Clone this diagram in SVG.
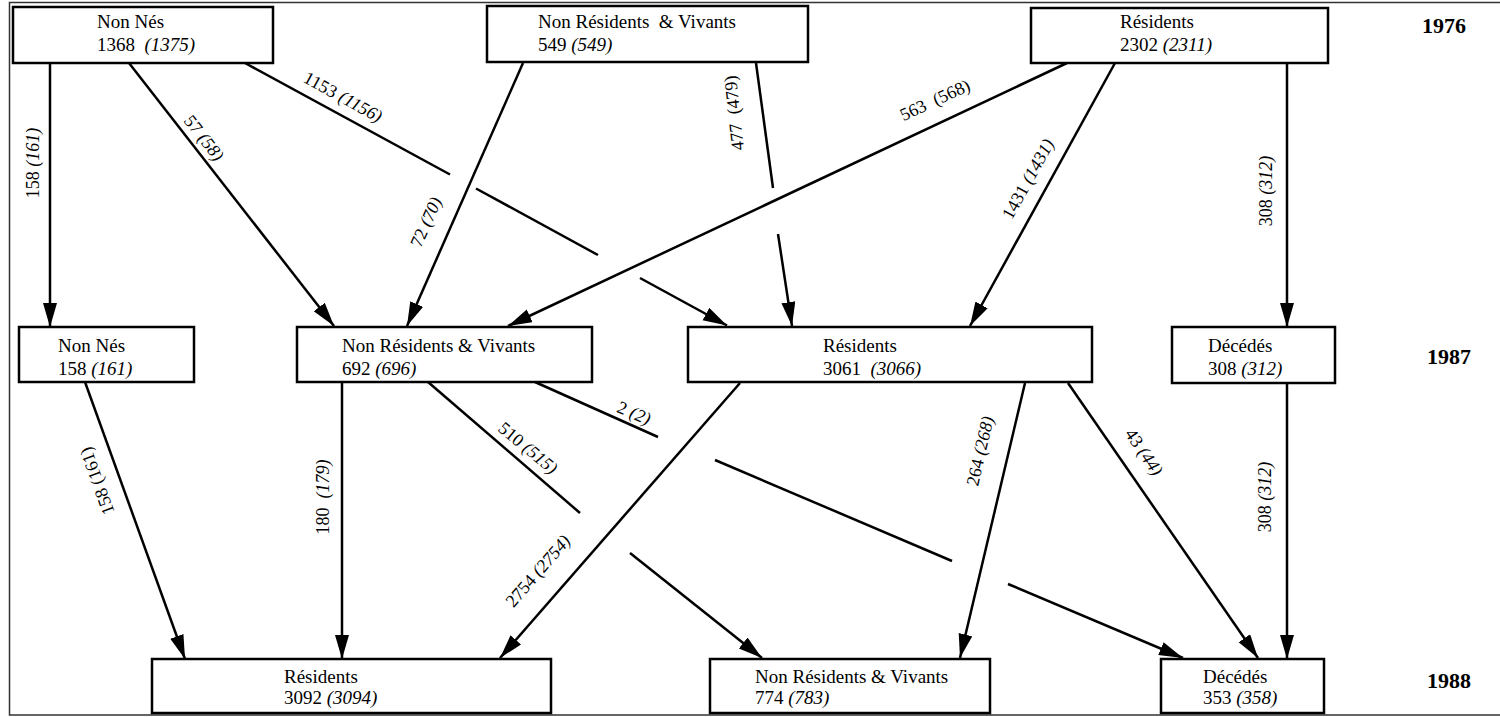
<svg xmlns="http://www.w3.org/2000/svg" width="1500" height="717" viewBox="0 0 1500 717">
  <style>
    .box { fill: #ffffff; stroke: #000000; stroke-width: 2.5; }
    .nt { font-family: "Liberation Serif", "Times New Roman", serif; font-size: 19px; fill: #000000; white-space: pre; }
    .it { font-style: italic; }
    .yr { font-family: "Liberation Serif", "Times New Roman", serif; font-size: 22px; font-weight: bold; fill: #000000; text-anchor: middle; }
    .edge { fill: none; stroke: #000000; stroke-width: 2.5; }
    .lbl { font-family: "Liberation Serif", "Times New Roman", serif; font-size: 18px; fill: #000000; text-anchor: middle; dominant-baseline: central; white-space: pre; }
    .frame { fill: none; stroke: #333333; stroke-width: 1.5; }
  </style>
  <defs>
    <marker id="arrow" markerUnits="userSpaceOnUse" markerWidth="26" markerHeight="16" refX="24" refY="7" orient="auto">
      <path d="M0,0 L24,7 L0,14 Z" fill="#000000"/>
    </marker>
  </defs>

  <rect width="1500" height="717" fill="#ffffff"/>

  <!-- outer frame -->
  <g id="frame">
    <path class="frame" d="M1500,2.5 H9.5 V715 H1500"/>
  </g>

  <!-- year labels -->
  <g id="years">
    <text class="yr" x="1444" y="33">1976</text>
    <text class="yr" x="1449" y="364">1987</text>
    <text class="yr" x="1449" y="688">1988</text>
  </g>

  <!-- connectors -->
  <g id="connectors">
    <!-- 1976 -> 1987 -->
    <line class="edge" x1="50" y1="63" x2="50" y2="327" marker-end="url(#arrow)"/>
    <line class="edge" x1="129" y1="63" x2="334" y2="326" marker-end="url(#arrow)"/>
    <line class="edge" x1="245" y1="63" x2="450" y2="174.5"/>
    <line class="edge" x1="476" y1="188.5" x2="598" y2="255"/>
    <line class="edge" x1="640" y1="278" x2="727" y2="325.5" marker-end="url(#arrow)"/>
    <line class="edge" x1="523" y1="63" x2="407" y2="326" marker-end="url(#arrow)"/>
    <line class="edge" x1="756" y1="63" x2="773" y2="188"/>
    <line class="edge" x1="778" y1="234" x2="792" y2="326" marker-end="url(#arrow)"/>
    <line class="edge" x1="1067" y1="63" x2="508" y2="326" marker-end="url(#arrow)"/>
    <line class="edge" x1="1115" y1="63" x2="970" y2="326" marker-end="url(#arrow)"/>
    <line class="edge" x1="1287" y1="63" x2="1287" y2="327" marker-end="url(#arrow)"/>

    <!-- 1987 -> 1988 -->
    <line class="edge" x1="85" y1="382" x2="185" y2="659" marker-end="url(#arrow)"/>
    <line class="edge" x1="342" y1="382" x2="342" y2="659" marker-end="url(#arrow)"/>
    <line class="edge" x1="428" y1="382" x2="580" y2="513"/>
    <line class="edge" x1="630" y1="553" x2="762" y2="658" marker-end="url(#arrow)"/>
    <line class="edge" x1="535" y1="382" x2="658" y2="437"/>
    <line class="edge" x1="715" y1="460" x2="952" y2="561"/>
    <line class="edge" x1="1008" y1="584" x2="1183" y2="658" marker-end="url(#arrow)"/>
    <line class="edge" x1="740" y1="383" x2="500" y2="658" marker-end="url(#arrow)"/>
    <line class="edge" x1="1025" y1="383" x2="960" y2="658" marker-end="url(#arrow)"/>
    <line class="edge" x1="1068" y1="383" x2="1258" y2="658" marker-end="url(#arrow)"/>
    <line class="edge" x1="1287" y1="383" x2="1287" y2="659" marker-end="url(#arrow)"/>

    <!-- flow labels -->
    <text class="lbl" transform="translate(33,163) rotate(-90)">158 <tspan class="it">(161)</tspan></text>
    <text class="lbl" transform="translate(204,138) rotate(52)">57 <tspan class="it">(58)</tspan></text>
    <text class="lbl" transform="translate(343,97) rotate(28.6)">1153 <tspan class="it">(1156)</tspan></text>
    <text class="lbl" transform="translate(426,222) rotate(-66)">72 <tspan class="it">(70)</tspan></text>
    <text class="lbl" transform="translate(734,113) rotate(-96)">477  (479)</text>
    <text class="lbl" transform="translate(935,100) rotate(-25)">563  (568)</text>
    <text class="lbl" transform="translate(1028,179) rotate(-61)">1431 <tspan class="it">(1431)</tspan></text>
    <text class="lbl" transform="translate(1266,191) rotate(-90)">308 <tspan class="it">(312)</tspan></text>

    <text class="lbl" transform="translate(97,481) rotate(-110)">158 (161)</text>
    <text class="lbl" transform="translate(323,497) rotate(-90)">180  <tspan class="it">(179)</tspan></text>
    <text class="lbl" transform="translate(528,448) rotate(39.5)">510 <tspan class="it">(515)</tspan></text>
    <text class="lbl" transform="translate(634,413) rotate(23)">2 <tspan class="it">(2)</tspan></text>
    <text class="lbl" transform="translate(538,571) rotate(-49)">2754 <tspan class="it">(2754)</tspan></text>
    <text class="lbl" transform="translate(980,451) rotate(-77)">264 <tspan class="it">(268)</tspan></text>
    <text class="lbl" transform="translate(1144,452) rotate(55.5)">43 <tspan class="it">(44)</tspan></text>
    <text class="lbl" transform="translate(1265,497) rotate(-90)">308 <tspan class="it">(312)</tspan></text>
  </g>

  <!-- 1976 states -->
  <g id="n1976-nonnes">
    <rect class="box" x="13" y="7" width="260" height="56"/>
    <text class="nt" x="97" y="28">Non Nés</text>
    <text class="nt" x="97" y="51">1368  <tspan class="it">(1375)</tspan></text>
  </g>
  <g id="n1976-nonresidents">
    <rect class="box" x="487" y="6" width="321" height="56"/>
    <text class="nt" x="538" y="28">Non Résidents  &amp; Vivants</text>
    <text class="nt" x="538" y="51">549 <tspan class="it">(549)</tspan></text>
  </g>
  <g id="n1976-residents">
    <rect class="box" x="1031" y="8" width="297" height="55"/>
    <text class="nt" x="1120" y="28">Résidents</text>
    <text class="nt" x="1120" y="51">2302 <tspan class="it">(2311)</tspan></text>
  </g>

  <!-- 1987 states -->
  <g id="n1987-nonnes">
    <rect class="box" x="19" y="327" width="175" height="55"/>
    <text class="nt" x="58" y="352">Non Nés</text>
    <text class="nt" x="58" y="375">158 <tspan class="it">(161)</tspan></text>
  </g>
  <g id="n1987-nonresidents">
    <rect class="box" x="297" y="327" width="295" height="55"/>
    <text class="nt" x="342" y="352">Non Résidents &amp; Vivants</text>
    <text class="nt" x="342" y="375">692 <tspan class="it">(696)</tspan></text>
  </g>
  <g id="n1987-residents">
    <rect class="box" x="688" y="327" width="404" height="55"/>
    <text class="nt" x="823" y="352">Résidents</text>
    <text class="nt" x="823" y="375">3061  <tspan class="it">(3066)</tspan></text>
  </g>
  <g id="n1987-decedes">
    <rect class="box" x="1172" y="327" width="163" height="56"/>
    <text class="nt" x="1208" y="352">Décédés</text>
    <text class="nt" x="1208" y="375">308 <tspan class="it">(312)</tspan></text>
  </g>

  <!-- 1988 states -->
  <g id="n1988-residents">
    <rect class="box" x="152" y="659" width="399" height="54"/>
    <text class="nt" x="284" y="683">Résidents</text>
    <text class="nt" x="284" y="704">3092 <tspan class="it">(3094)</tspan></text>
  </g>
  <g id="n1988-nonresidents">
    <rect class="box" x="710" y="659" width="280" height="54"/>
    <text class="nt" x="755" y="683">Non Résidents &amp; Vivants</text>
    <text class="nt" x="755" y="704">774 <tspan class="it">(783)</tspan></text>
  </g>
  <g id="n1988-decedes">
    <rect class="box" x="1161" y="659" width="163" height="54"/>
    <text class="nt" x="1203" y="683">Décédés</text>
    <text class="nt" x="1203" y="704">353 <tspan class="it">(358)</tspan></text>
  </g>
</svg>
